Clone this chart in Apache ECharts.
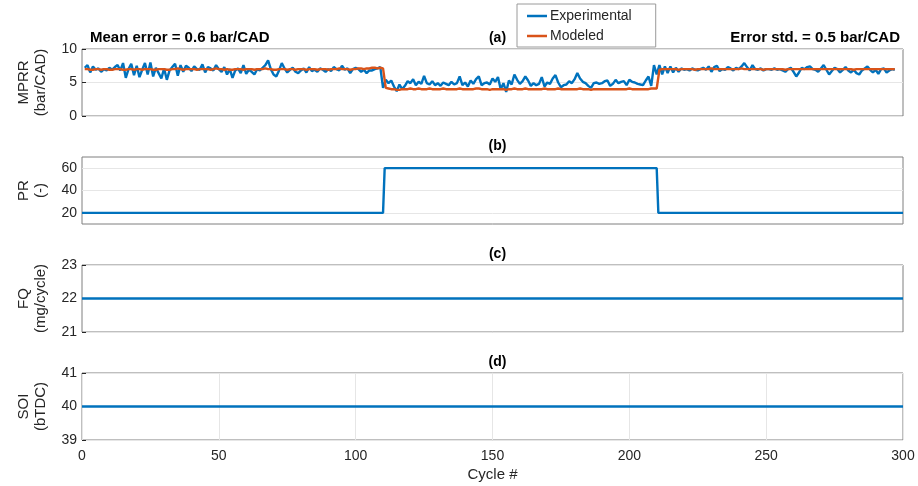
<!DOCTYPE html>
<html><head><meta charset="utf-8">
<script src="https://cdn.jsdelivr.net/npm/echarts@6/dist/echarts.min.js"></script>
<style>html,body{margin:0;padding:0;background:#fff}#c{width:918px;height:486px}</style>
</head><body><div id="c"></div>
<script>
// ---- Data ----
// Experimental MPRR (bar/CAD), cycles 1..297
const expMPRR = [
  7.2,7.6,6.5,7.4,6.9,7.1,6.6,7.0,6.8,7.2,6.9,7.3,
  7.6,6.8,7.9,5.7,7.0,7.8,6.1,7.5,5.8,6.9,7.9,6.2,8.0,5.9,7.2,6.4,5.6,7.1,
  5.4,6.8,7.3,7.8,6.0,7.6,6.6,7.5,7.2,6.7,7.4,7.0,6.9,7.7,6.5,7.3,7.1,6.8,7.6,7.0,
  6.6,7.3,6.2,7.0,5.7,6.8,7.1,6.4,7.6,6.3,6.9,6.6,6.2,7.0,6.8,7.2,7.6,8.3,7.0,6.2,
  5.9,6.8,7.9,7.1,6.5,6.9,7.2,6.6,6.4,6.8,7.1,6.5,7.3,6.7,6.9,6.6,7.1,6.9,6.6,7.0,
  6.7,7.3,7.0,6.8,7.5,6.9,7.1,6.4,7.0,7.2,7.0,6.6,6.9,6.4,6.8,6.8,7.0,7.1,7.3,
  4.2,5.4,4.9,5.3,4.4,3.7,4.7,4.0,4.5,5.2,4.9,5.5,4.6,5.1,4.8,6.0,4.9,4.7,5.2,4.6,4.9,
  4.5,5.0,4.8,4.6,5.1,4.7,4.9,5.9,4.6,5.0,4.4,5.3,4.8,5.5,5.9,4.6,4.9,5.0,4.7,5.6,5.1,5.8,
  4.0,4.9,3.6,5.3,4.7,6.2,5.4,4.8,5.2,5.9,5.3,4.5,4.9,4.6,4.8,5.8,4.4,5.0,4.8,5.6,6.1,5.0,4.3,
  4.6,4.7,5.2,4.9,5.5,6.4,5.6,5.1,4.9,4.5,4.2,4.9,5.0,4.8,4.9,5.2,5.3,4.5,4.8,5.4,4.9,5.1,
  5.2,4.6,5.4,5.1,5.0,4.8,4.7,4.6,5.3,5.9,4.5,
  7.6,6.2,7.6,6.2,7.4,6.4,7.4,6.5,7.2,6.6,7.1,6.9,7.0,6.8,7.1,6.9,6.8,7.0,7.2,6.9,7.4,6.6,
  7.3,7.5,6.7,7.0,6.9,7.3,7.1,6.8,7.2,7.0,7.4,7.9,7.3,6.8,7.6,7.0,6.9,7.1,6.8,7.0,
  7.0,6.9,7.1,6.9,7.0,6.8,6.6,7.0,7.2,6.6,5.9,6.5,7.2,7.0,7.3,7.4,7.0,6.9,6.6,7.1,
  7.6,6.9,6.2,6.7,7.2,7.0,6.5,6.9,7.3,6.8,6.5,6.9,6.4,6.2,6.8,7.1,7.4,6.9,6.5,6.9,
  6.3,7.0,7.1,6.5,6.8,7.0,6.9
];
// Modeled MPRR (bar/CAD), cycles 1..297
const modMPRR = [
  7.0,7.0,6.9,6.9,7.0,7.0,6.9,7.0,7.0,6.9, 6.9,7.0,7.0,7.0,6.9,6.9,7.0,7.0,6.9,7.0,
  7.0,6.9,7.0,7.0,7.0,6.9,6.9,7.0,7.0,7.0, 6.9,6.9,7.0,7.0,7.1,7.0,6.9,7.0,7.0,7.0,
  7.0,6.9,7.0,7.0,7.0,7.0,6.9,7.0,7.1,7.0, 7.0,6.9,7.0,6.9,6.9,7.0,7.0,7.0,6.9,7.0,
  7.0,7.0,6.9,7.0,7.0,7.0,7.1,7.0,7.0,6.9, 6.9,7.0,7.0,7.0,6.9,7.0,7.0,6.9,7.0,7.0,
  7.0,6.9,7.0,7.0,7.0,6.9,7.0,7.0,7.0,6.9, 7.0,7.0,7.0,7.1,7.0,7.0,7.0,6.9,7.0,7.0,
  7.1,7.1,7.0,7.1,7.1,7.2,7.2,7.1,7.2,7.1,
  4.2,4.1,4.0,4.0,3.9,3.9,4.0,4.0,4.0,4.1, 4.0,4.0,4.1,4.0,4.0,4.0,4.1,4.0,4.0,4.0,
  4.0,4.1,4.0,4.0,4.0,4.0,4.0,4.1,4.0,4.0, 4.0,4.0,4.0,4.1,4.1,4.0,4.0,4.0,3.9,4.0,
  4.0,4.0,4.0,4.0,3.9,4.0,4.0,4.1,4.0,4.0, 4.0,4.1,4.0,4.0,4.0,4.0,4.0,4.0,4.1,4.0,
  4.0,4.0,4.0,4.1,4.0,4.0,4.0,4.0,4.0,4.0, 4.0,4.1,4.0,4.0,4.0,3.9,4.0,4.0,4.0,4.0,
  4.0,4.0,4.0,4.0,4.0,4.0,4.0,4.0,4.0,4.1, 4.0,4.0,4.0,4.0,4.0,4.0,4.0,4.1,4.1,4.1,
  6.9,7.0,7.0,7.0,7.0,7.0,7.0,6.9,7.0,7.0, 7.0,7.0,7.0,6.9,7.0,7.0,7.0,7.0,7.0,7.1,
  7.0,7.0,7.0,7.0,7.0,7.0,7.0,7.0,7.0,7.0, 7.1,7.0,7.0,7.0,7.0,7.0,7.0,7.0,6.9,7.0,
  7.0,7.0,7.0,7.0,7.0,7.0,6.9,7.0,7.0,7.0, 7.0,7.0,7.0,7.0,7.0,7.0,7.0,7.0,7.0,7.0,
  7.0,7.0,7.0,7.0,7.0,7.0,7.0,7.0,7.0,7.0, 7.0,6.9,7.0,7.0,7.0,7.0,7.0,7.0,7.0,7.0,
  7.0,7.0,7.0,7.0,7.0,7.0,7.0
];
const firstCycle = 1;
// PR (-) step profile: breakpoints
const prCycles = [0, 110, 110.6, 210, 210.6, 300];
const prValues = [20, 20, 60, 60, 20, 20];
// FQ (mg/cycle)
const fqCycles = [0, 300];
const fqValues = [22, 22];
// SOI (bTDC)
const soiCycles = [0, 300];
const soiValues = [40, 40];
// Tick labels / texts
const xTicks = [0, 50, 100, 150, 200, 250, 300];
const prTickLabels = [20, 40, 60];
const panelTitles = ['(a)', '(b)', '(c)', '(d)'];
const yNames = ['MPRR\n(bar/CAD)', 'PR\n(-)', 'FQ\n(mg/cycle)', 'SOI\n(bTDC)'];
const meanErrorText = 'Mean error = 0.6 bar/CAD';
const stdText = 'Error std. = 0.5 bar/CAD';
const seriesNames = ['Experimental', 'Modeled'];

// ---- Styling / layout ----
const BLUE = '#0072BD', ORANGE = '#D95319';
const NARROW = "'Liberation Sans Narrow','Arial Narrow','Liberation Sans',Arial,sans-serif";
const REG = "'Liberation Sans',Arial,sans-serif";
const GRIDC = '#e6e6e6', BORDER = '#7f7f7f', TXT = '#262626';
const L = 82, R = 15, H = 67;
const tops = [49, 157, 265, 373];

const pairs = (xs, ys) => ys.map((v, i) => [xs[i], v]);
const seq = (arr) => arr.map((v, i) => [i + firstCycle, v]);

const grids = tops.map(t => ({left: L, right: R, top: t, height: H, show: true, borderColor: BORDER, borderWidth: 1, backgroundColor: '#fff'}));

const xAxes = tops.map((t, i) => ({
  type: 'value', gridIndex: i, min: xTicks[0], max: xTicks[xTicks.length - 1], interval: 50,
  axisLine: {show: false}, axisTick: {show: false},
  axisLabel: {show: i === 3, color: TXT, fontFamily: NARROW, fontSize: 14, margin: 9},
  splitLine: {show: i === 3, lineStyle: {color: GRIDC, width: 1}},
  name: i === 3 ? 'Cycle #' : '', nameLocation: 'middle', nameGap: 27,
  nameTextStyle: {color: TXT, fontFamily: NARROW, fontSize: 15}
}));

const yCommon = (i) => ({
  type: 'value', gridIndex: i,
  axisLine: {show: false},
  axisTick: {show: true, inside: true, length: 4, lineStyle: {color: TXT}},
  axisLabel: {color: TXT, fontFamily: NARROW, fontSize: 14, margin: 5},
  splitLine: {show: true, lineStyle: {color: GRIDC, width: 1}},
  name: yNames[i], nameLocation: 'middle', nameRotate: 90, nameGap: 33,
  nameTextStyle: {color: TXT, fontFamily: REG, fontSize: 15, lineHeight: 17}
});

const yAxes = [
  Object.assign(yCommon(0), {min: 0, max: 10, interval: 5}),
  Object.assign(yCommon(1), {min: 10, max: 70, interval: 10,
    axisTick: {show: false},
    splitLine: {show: false},
    axisLabel: {color: TXT, fontFamily: NARROW, fontSize: 14, margin: 5,
      formatter: v => prTickLabels.indexOf(v) >= 0 ? String(v) : ''}}),
  Object.assign(yCommon(2), {min: 21, max: 23, interval: 1}),
  Object.assign(yCommon(3), {min: 39, max: 41, interval: 1})
];

const lineBase = {type: 'line', showSymbol: false, symbol: 'none', animation: false};

const series = [
  Object.assign({}, lineBase, {name: seriesNames[0], xAxisIndex: 0, yAxisIndex: 0, z: 3,
    data: seq(expMPRR), lineStyle: {color: BLUE, width: 2.4}, itemStyle: {color: BLUE}}),
  Object.assign({}, lineBase, {name: seriesNames[1], xAxisIndex: 0, yAxisIndex: 0, z: 4,
    data: seq(modMPRR), lineStyle: {color: ORANGE, width: 2.4}, itemStyle: {color: ORANGE}}),
  // grid lines for panel (b)
  Object.assign({}, lineBase, {name: 'prgrid', xAxisIndex: 1, yAxisIndex: 1, z: 1, data: [],
    markLine: {silent: true, z: 1, symbol: 'none', animation: false, label: {show: false},
      lineStyle: {color: GRIDC, width: 1, type: 'solid'},
      data: prTickLabels.map(v => ({yAxis: v}))}}),
  Object.assign({}, lineBase, {name: 'PR', xAxisIndex: 1, yAxisIndex: 1, z: 3,
    data: pairs(prCycles, prValues), lineStyle: {color: BLUE, width: 2.4}}),
  Object.assign({}, lineBase, {name: 'FQ', xAxisIndex: 2, yAxisIndex: 2, z: 3,
    data: pairs(fqCycles, fqValues), lineStyle: {color: BLUE, width: 2.4}}),
  Object.assign({}, lineBase, {name: 'SOI', xAxisIndex: 3, yAxisIndex: 3, z: 3,
    data: pairs(soiCycles, soiValues), lineStyle: {color: BLUE, width: 2.4}})
];

const titleY = [33, 141, 249, 357];
const titles = panelTitles.map((t, i) => ({
  text: t, left: L + (918 - L - R) / 2, top: titleY[i], textAlign: 'center', textVerticalAlign: 'middle',
  textStyle: {fontFamily: NARROW, fontWeight: 'bold', fontSize: 14, color: '#000'}
}));

const option = {
  animation: false,
  grid: grids,
  xAxis: xAxes,
  yAxis: yAxes,
  series: series,
  title: titles,
  legend: {
    data: seriesNames.map(n => ({name: n, icon: 'rect'})),
    orient: 'vertical', left: 517, top: 4,
    itemWidth: 20, itemHeight: 2.5, itemGap: 6,
    padding: [5, 24, 4, 10],
    borderColor: '#9a9a9a', borderWidth: 1, backgroundColor: '#fff',
    textStyle: {fontFamily: NARROW, fontSize: 14, color: TXT, padding: [0, 0, 0, -2]}
  },
  graphic: [
    {type: 'text', left: 90, top: 30, style: {text: meanErrorText, fontFamily: NARROW, fontWeight: 'bold', fontSize: 15, fill: '#000'}},
    {type: 'text', right: 18, top: 30, style: {text: stdText, fontFamily: NARROW, fontWeight: 'bold', fontSize: 15, fill: '#000'}}
  ]
};
const chart = echarts.init(document.getElementById('c'), null, {renderer: 'canvas'});
chart.setOption(option);
</script></body></html>
